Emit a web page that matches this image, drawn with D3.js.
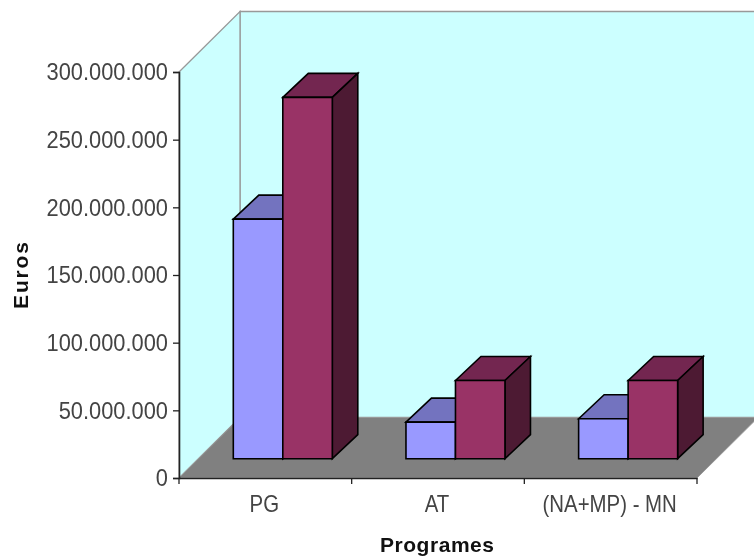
<html>
<head>
  <meta charset="utf-8" />
  <script src="https://d3js.org/d3.v7.min.js"></script>
</head>
<body style="margin: 0; background: white">
<script>

const categories = ['PG', 'AT', '(NA+MP) - MN']
const series1 = [177000000, 27000000, 29500000]
const series2 = [267000000, 57800000, 57800000]
const yTicks = [0, 50000000, 100000000, 150000000, 200000000, 250000000, 300000000]
const yTitle = 'Euros'
const xTitle = 'Programes'

const svg = d3.select('body').append('svg')
  .attr('width', 754)
  .attr('height', 556)
  .style('display', 'block')
  .style('filter', 'blur(0.35px)')

const x = d3.scaleBand().domain(categories).range([179, 697])
const y = d3.scaleLinear().domain([0, 300000000]).range([478, 72])

// offset of the back wall from the front plane
const wallDx = 61, wallDy = -60.5
// bar depth and where the bars sit on the floor
const depthDx = 25.5, depthDy = -24
const barW = 49.5, barLeft = 54.3, barLift = 19.3

function poly(pts, fill, stroke, width) {
  return svg.append('path')
    .attr('d', 'M' + pts.map(p => p.join(',')).join('L') + 'Z')
    .attr('fill', fill)
    .attr('stroke', stroke)
    .attr('stroke-width', width || 1)
}

const x0 = x.range()[0], x1 = x.range()[1]
const y0 = y(0), yT = y(300000000)

poly([[x0 + wallDx, yT + wallDy], [756, yT + wallDy], [756, y0 + wallDy], [x0 + wallDx, y0 + wallDy]], '#ccffff', '#999', 1.3)
poly([[x0, yT], [x0 + wallDx, yT + wallDy], [x0 + wallDx, y0 + wallDy], [x0, y0]], '#ccffff', '#999', 1.3)
poly([[x0, y0], [x0 + wallDx, y0 + wallDy], [x1 + wallDx, y0 + wallDy], [x1, y0]], '#808080', '#999', 1)

function bar(left, value, front, top, side) {
  const by = y0 - barLift
  const h = y0 - y(value)
  const r = left + barW
  const ty = by - h
  poly([[left, ty], [left + depthDx, ty + depthDy], [r + depthDx, ty + depthDy], [r, ty]], top, '#000', 1.6)
  poly([[r, ty], [r + depthDx, ty + depthDy], [r + depthDx, by + depthDy], [r, by]], side, '#000', 1.6)
  poly([[left, ty], [r, ty], [r, by], [left, by]], front, '#000', 1.6)
}

categories.forEach((c, i) => {
  const left = x(c) + barLeft
  bar(left, series1[i], '#9999ff', '#7373bf', '#4d4d80')
  bar(left + barW, series2[i], '#993366', '#732650', '#4d1a33')
})

const font = '"Liberation Sans", Arial, sans-serif'

const yAxis = svg.append('g')
  .attr('transform', 'translate(' + x0 + ',0)')
  .call(d3.axisLeft(y).tickValues(yTicks).tickSize(6).tickPadding(5)
    .tickFormat(d => d3.format(',')(d).replace(/,/g, '.')))

const xAxis = svg.append('g')
  .attr('transform', 'translate(0,' + y0 + ')')
  .call(d3.axisBottom(x).tickSize(0).tickPadding(0))

// category ticks fall between the bands
svg.append('g').selectAll('line')
  .data(categories.concat(['end']))
  .join('line')
  .attr('x1', (d, i) => x0 + i * x.bandwidth())
  .attr('x2', (d, i) => x0 + i * x.bandwidth())
  .attr('y1', y0)
  .attr('y2', y0 + 6)
  .attr('stroke', '#222')
  .attr('stroke-width', 1.3)

svg.selectAll('.domain').attr('stroke', '#222').attr('stroke-width', 1.6)
svg.selectAll('.tick line').attr('stroke', '#222').attr('stroke-width', 1.3)

// the original is stretched, so squeeze the glyphs to the same widths
function squeeze(sel, k) {
  sel.each(function() {
    d3.select(this)
      .attr('textLength', this.getComputedTextLength() * k)
      .attr('lengthAdjust', 'spacingAndGlyphs')
  })
}

yAxis.selectAll('text').attr('font-family', font).attr('font-size', 24).attr('fill', '#444')
  .call(squeeze, 0.91)
xAxis.selectAll('text').attr('font-family', font).attr('font-size', 24).attr('fill', '#444')
  .attr('y', 34).attr('dy', 0).attr('dx', -1)
  .call(squeeze, 0.85)

svg.append('text').text(xTitle)
  .attr('x', 437).attr('y', 552)
  .attr('text-anchor', 'middle')
  .attr('font-family', font).attr('font-weight', 'bold').attr('font-size', 21)
  .attr('fill', '#111')
  .attr('textLength', 114).attr('lengthAdjust', 'spacing')

svg.append('text').text(yTitle)
  .attr('transform', 'translate(28,275.5) rotate(-90)')
  .attr('text-anchor', 'middle')
  .attr('font-family', font).attr('font-weight', 'bold').attr('font-size', 21)
  .attr('fill', '#111')
  .attr('textLength', 67).attr('lengthAdjust', 'spacing')

</script>
</body>
</html>
